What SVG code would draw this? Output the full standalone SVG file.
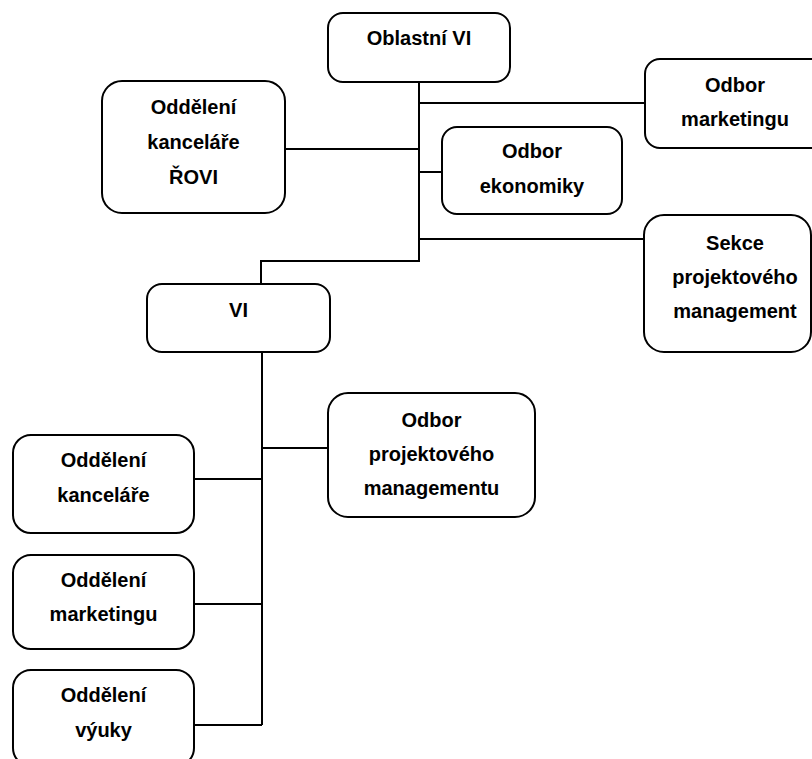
<svg xmlns="http://www.w3.org/2000/svg" width="812" height="759" viewBox="0 0 812 759">
<style>
  .box { fill: #ffffff; stroke: #000000; stroke-width: 2; }
  .lbl { font-family: "Liberation Sans", Arial, sans-serif; font-weight: bold; font-size: 20px; fill: #000000; text-anchor: middle; }
  .conn { fill: none; stroke: #000000; stroke-width: 2; }
</style>
<rect width="812" height="759" fill="#ffffff"/>
<g id="connectors">
  <polyline class="conn" points="419,82 419,261 261,261 261,284"/>
  <line class="conn" x1="419" y1="103" x2="645" y2="103"/>
  <line class="conn" x1="285" y1="149" x2="419" y2="149"/>
  <line class="conn" x1="419" y1="172" x2="442" y2="172"/>
  <line class="conn" x1="419" y1="239" x2="644" y2="239"/>
  <line class="conn" x1="262" y1="352" x2="262" y2="725"/>
  <line class="conn" x1="262" y1="448" x2="328" y2="448"/>
  <line class="conn" x1="194" y1="479" x2="262" y2="479"/>
  <line class="conn" x1="194" y1="604" x2="262" y2="604"/>
  <line class="conn" x1="194" y1="725" x2="262" y2="725"/>
</g>
<g id="oblastni-vi">
  <rect class="box" x="328" y="13" width="182" height="69" rx="15"/>
  <text class="lbl" x="419" y="45">Oblastní VI</text>
</g>
<g id="oddeleni-kancelare-rovi">
  <rect class="box" x="102" y="81" width="183" height="132" rx="20"/>
  <text class="lbl" x="193.5" y="114">Oddělení</text>
  <text class="lbl" x="193.5" y="149">kanceláře</text>
  <text class="lbl" x="193.5" y="184">ŘOVI</text>
</g>
<g id="odbor-marketingu">
  <rect class="box" x="645" y="59" width="181" height="89" rx="15"/>
  <text class="lbl" x="735" y="92">Odbor</text>
  <text class="lbl" x="735" y="126">marketingu</text>
</g>
<g id="odbor-ekonomiky">
  <rect class="box" x="442" y="127" width="180" height="87" rx="15"/>
  <text class="lbl" x="532" y="158">Odbor</text>
  <text class="lbl" x="532" y="193">ekonomiky</text>
</g>
<g id="sekce-projektoveho">
  <rect class="box" x="644" y="215" width="167" height="137" rx="20"/>
  <text class="lbl" x="735" y="250">Sekce</text>
  <text class="lbl" x="735" y="284">projektového</text>
  <text class="lbl" x="735" y="318">management</text>
</g>
<g id="vi">
  <rect class="box" x="147" y="284" width="183" height="68" rx="15"/>
  <text class="lbl" x="238.5" y="317">VI</text>
</g>
<g id="odbor-projektoveho">
  <rect class="box" x="328" y="393" width="207" height="124" rx="20"/>
  <text class="lbl" x="431.5" y="427">Odbor</text>
  <text class="lbl" x="431.5" y="461">projektového</text>
  <text class="lbl" x="431.5" y="495">managementu</text>
</g>
<g id="oddeleni-kancelare">
  <rect class="box" x="13" y="435" width="181" height="98" rx="18"/>
  <text class="lbl" x="103.5" y="467">Oddělení</text>
  <text class="lbl" x="103.5" y="502">kanceláře</text>
</g>
<g id="oddeleni-marketingu">
  <rect class="box" x="13" y="555" width="181" height="94" rx="18"/>
  <text class="lbl" x="103.5" y="587">Oddělení</text>
  <text class="lbl" x="103.5" y="621">marketingu</text>
</g>
<g id="oddeleni-vyuky">
  <rect class="box" x="13" y="670" width="181" height="96" rx="18"/>
  <text class="lbl" x="103.5" y="702">Oddělení</text>
  <text class="lbl" x="103.5" y="737">výuky</text>
</g>
</svg>
